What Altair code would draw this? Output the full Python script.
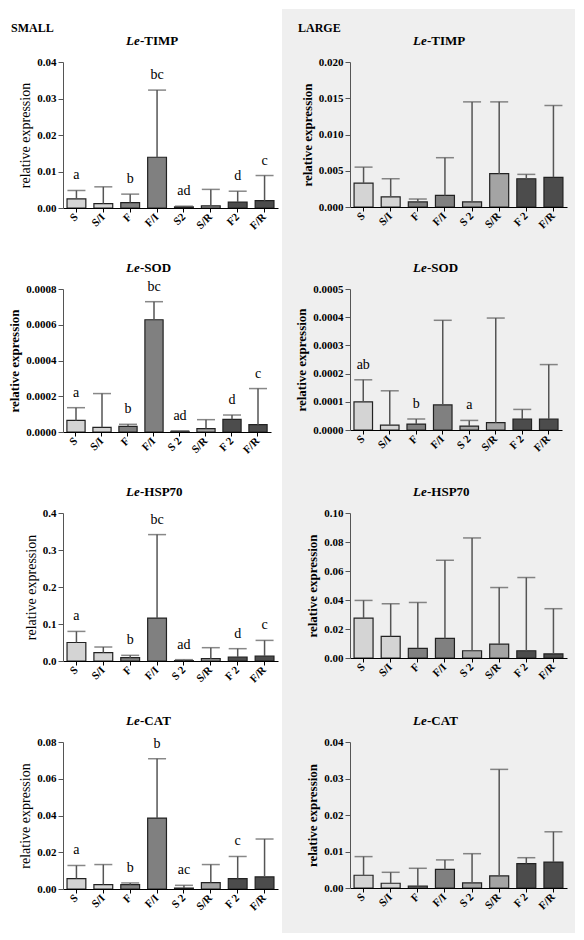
import altair as alt
import pandas as pd

SERIF = "Liberation Serif, Times New Roman, Times, serif"

# ---------------- data ----------------
cond_timp_small = ["S", "S/I", "F", "F/I", "S2", "S/R", "F2", "F/R"]
cond_default = ["S", "S/I", "F", "F/I", "S 2", "S/R", "F 2", "F/R"]
groups = ["light", "light", "dark", "dark", "lightpat", "lightpat", "darkpat", "darkpat"]
group_names = ["light", "dark", "lightpat", "darkpat"]
group_colors = ["#d4d4d4", "#808080", "#a4a4a4", "#4c4c4c"]
genes = ["TIMP", "SOD", "HSP70", "CAT"]
size_labels = ["SMALL", "LARGE"]

timp_small_mean = [0.0025, 0.0012, 0.0015, 0.0139, 0.0003, 0.0006, 0.0016, 0.0020]
timp_small_err = [0.0048, 0.0058, 0.0038, 0.0323, 0.0005, 0.0051, 0.0046, 0.0089]
timp_small_letters = ["a", "", "b", "bc", "ad", "", "d", "c"]
timp_large_mean = [0.0033, 0.0014, 0.0007, 0.0016, 0.0007, 0.0046, 0.0039, 0.0041]
timp_large_err = [0.0055, 0.0039, 0.0011, 0.0068, 0.0145, 0.0145, 0.0045, 0.0140]
timp_large_letters = ["", "", "", "", "", "", "", ""]

sod_small_mean = [0.000065, 0.000026, 0.000032, 0.000628, 0.000004, 0.000019, 0.000071, 0.000041]
sod_small_err = [0.000136, 0.000215, 0.000043, 0.000729, 0.000006, 0.000069, 0.000095, 0.000243]
sod_small_letters = ["a", "", "b", "bc", "ad", "", "d", "c"]
sod_large_mean = [0.000100, 0.000017, 0.000021, 0.000089, 0.000014, 0.000026, 0.000039, 0.000039]
sod_large_err = [0.000178, 0.000139, 0.000039, 0.000389, 0.000034, 0.000397, 0.000073, 0.000232]
sod_large_letters = ["ab", "", "b", "", "a", "", "", ""]

hsp_small_mean = [0.050, 0.0225, 0.009, 0.116, 0.001, 0.0063, 0.0108, 0.0135]
hsp_small_err = [0.080, 0.0378, 0.0153, 0.3416, 0.0036, 0.036, 0.0333, 0.0557]
hsp_small_letters = ["a", "", "b", "bc", "ad", "", "d", "c"]
hsp_large_mean = [0.0275, 0.0149, 0.0067, 0.0135, 0.0050, 0.0096, 0.0050, 0.0028]
hsp_large_err = [0.0397, 0.0374, 0.0383, 0.0674, 0.0828, 0.0486, 0.0555, 0.0340]
hsp_large_letters = ["", "", "", "", "", "", "", ""]

cat_small_mean = [0.0057, 0.0024, 0.0024, 0.0386, 0.0005, 0.0035, 0.0057, 0.0066]
cat_small_err = [0.0128, 0.0133, 0.0033, 0.0709, 0.0020, 0.0133, 0.0177, 0.0272]
cat_small_letters = ["a", "", "b", "b", "ac", "", "c", ""]
cat_large_mean = [0.0035, 0.0013, 0.0005, 0.0051, 0.0014, 0.0033, 0.0067, 0.0071]
cat_large_err = [0.0086, 0.0043, 0.0054, 0.0077, 0.0094, 0.0325, 0.0083, 0.0154]
cat_large_letters = ["", "", "", "", "", "", "", ""]

timp_small_ticks = [0, 0.01, 0.02, 0.03, 0.04]
timp_large_ticks = [0, 0.005, 0.010, 0.015, 0.020]
sod_small_ticks = [0, 0.0002, 0.0004, 0.0006, 0.0008]
sod_large_ticks = [0, 0.0001, 0.0002, 0.0003, 0.0004, 0.0005]
hsp_small_ticks = [0, 0.1, 0.2, 0.3, 0.4]
hsp_large_ticks = [0, 0.02, 0.04, 0.06, 0.08, 0.10]
cat_small_ticks = [0, 0.02, 0.04, 0.06, 0.08]
cat_large_ticks = [0, 0.01, 0.02, 0.03, 0.04]


def panel(gene, labels, mean, err, letters, ticks, fmt, w, h, ytitle_bold,
          header=None, grey=False):
    df = pd.DataFrame({"cond": labels, "mean": mean, "err": err,
                       "letter": letters, "grp": groups})
    xaxis = alt.Axis(title=None, labelAngle=-45, labelAlign="right",
                     labelBaseline="middle", labelFont=SERIF,
                     labelFontWeight="bold", labelFontSize=11,
                     labelColor="black", tickSize=4, tickColor="black",
                     domainColor="black", labelPadding=3, zindex=2)
    yaxis = alt.Axis(values=ticks, format=fmt, title="relative expression",
                     titleFont=SERIF,
                     titleFontSize=13 if ytitle_bold else 14,
                     titleFontWeight="bold" if ytitle_bold else "normal",
                     titleColor="black", titlePadding=4,
                     labelFont=SERIF, labelFontSize=11,
                     labelFontWeight="bold", labelColor="black",
                     labelOverlap=False, tickCount=len(ticks),
                     tickSize=5, tickColor="#555", domainColor="#555",
                     grid=False, zindex=2)
    xscale = alt.Scale(paddingInner=0.3, paddingOuter=0.15)
    yscale = alt.Scale(domain=[ticks[0], ticks[-1]], nice=False)

    def X():
        return alt.X("cond:N", sort=labels, scale=xscale, axis=xaxis)

    def Y(field):
        return alt.Y(field + ":Q", scale=yscale, axis=yaxis)

    base = alt.Chart(df)
    bars = base.mark_bar(stroke="#222", strokeWidth=1.2).encode(
        x=X(), y=Y("mean"),
        color=alt.Color("grp:N", scale=alt.Scale(domain=group_names, range=group_colors),
                        legend=None))
    rules = base.mark_rule(color="#555", strokeWidth=1.5).encode(
        x=X(), y=Y("mean"), y2="err:Q")
    caps = base.mark_tick(color="#555", thickness=1.5, size=18).encode(
        x=X(), y=Y("err"))
    txt = base.mark_text(font=SERIF, fontSize=14, dy=-11, baseline="alphabetic",
                         color="black").encode(x=X(), y=Y("err"), text="letter:N")
    t1 = alt.Chart(pd.DataFrame({"t": ["Le"]})).mark_text(
        font=SERIF, fontSize=13, fontStyle="italic", fontWeight="bold",
        align="left", baseline="alphabetic", color="black").encode(
        x=alt.value(63), y=alt.value(-17), text="t:N")
    t2 = alt.Chart(pd.DataFrame({"t": ["-" + gene]})).mark_text(
        font=SERIF, fontSize=13, fontWeight="bold",
        align="left", baseline="alphabetic", color="black").encode(
        x=alt.value(77), y=alt.value(-17), text="t:N")
    layers = []
    if grey:
        bg = alt.Chart(pd.DataFrame({"a": [0]})).mark_rect(color="#efefef").encode(
            x=alt.value(-68), x2=alt.value(225), y=alt.value(-53), y2=alt.value(871))
        layers.append(bg)
    layers += [bars, rules, caps, txt, t1, t2]
    if header:
        hd = alt.Chart(pd.DataFrame({"t": [header]})).mark_text(
            font=SERIF, fontSize=12, fontWeight="bold", align="left",
            baseline="alphabetic", color="black").encode(
            x=alt.value(-52), y=alt.value(-30), text="t:N")
        layers.append(hd)
    return alt.layer(*layers).properties(width=w, height=h)


panels = [
    panel(genes[0], cond_timp_small, timp_small_mean, timp_small_err, timp_small_letters,
          timp_small_ticks, ".2f", 215, 146, False, header=size_labels[0]),
    panel(genes[0], cond_default, timp_large_mean, timp_large_err, timp_large_letters,
          timp_large_ticks, ".3f", 217, 145, True, header=size_labels[1], grey=True),
    panel(genes[1], cond_default, sod_small_mean, sod_small_err, sod_small_letters,
          sod_small_ticks, ".4f", 208, 143, True),
    panel(genes[1], cond_default, sod_large_mean, sod_large_err, sod_large_letters,
          sod_large_ticks, ".4f", 212, 141, True),
    panel(genes[2], cond_default, hsp_small_mean, hsp_small_err, hsp_small_letters,
          hsp_small_ticks, ".1f", 215, 148, False),
    panel(genes[2], cond_default, hsp_large_mean, hsp_large_err, hsp_large_letters,
          hsp_large_ticks, ".2f", 217, 145, True),
    panel(genes[3], cond_default, cat_small_mean, cat_small_err, cat_small_letters,
          cat_small_ticks, ".2f", 215, 147, False),
    panel(genes[3], cond_default, cat_large_mean, cat_large_err, cat_large_letters,
          cat_large_ticks, ".2f", 217, 146, True),
]

chart = alt.concat(*panels, columns=2, bounds="flush",
                   spacing={"row": 81, "column": 72}).properties(
    background="white", padding=0
).configure_view(stroke="transparent")

chart.save("out.html", embed_options={"renderer": "svg", "actions": False})
